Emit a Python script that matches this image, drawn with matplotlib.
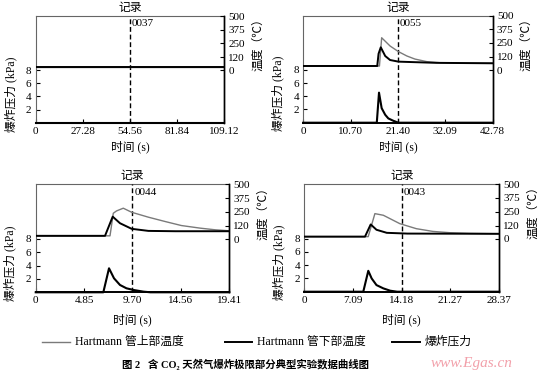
import matplotlib
matplotlib.use("Agg")
from matplotlib import pyplot as plt

plt.rcParams['font.family'] = ['Liberation Serif', 'Noto Sans CJK SC', 'DejaVu Sans']
plt.rcParams['axes.unicode_minus'] = False

# ---- data ----
# 0037
t_up1 = [0, 109.12]
up1 = [25, 25]
t_lo1 = [0, 109.12]
lo1 = [25, 25]
t_p1 = [0, 109.12]
p1 = [0, 0]

# 0055
t_up2 = [0, 17.2, 17.7, 19.6, 21.5, 23.4, 25.2, 27.9, 30.9, 35, 42.78]
up2 = [37, 37, 297, 221, 169, 129, 101, 77, 67, 63, 62]
t_lo2 = [0, 16.7, 17.0, 17.5, 18.5, 19.6, 21.5, 30, 42.78]
lo2 = [37, 37, 150, 209, 129, 92, 77, 66, 62]
t_p2 = [0, 16.6, 17.1, 17.7, 18.5, 19.2, 20.3, 21.5, 42.78]
p2 = [0, 0, 4.55, 2.2, 1.2, 0.65, 0.3, 0, 0]

# 0044
t_up3 = [0, 7.45, 7.78, 8.1, 8.78, 9.62, 11.3, 13.0, 14.6, 16.5, 18.0, 19.41]
up3 = [30, 30, 236, 257, 282, 245, 200, 160, 124, 100, 85, 76]
t_lo3 = [0, 6.95, 7.72, 8.45, 9.62, 11.3, 14, 19.41]
lo3 = [30, 30, 205, 145, 94, 75, 72, 72]
t_p3 = [0, 6.78, 7.35, 7.85, 8.45, 9.1, 9.8, 10.8, 11.5, 19.41]
p3 = [0, 0, 3.6, 2.1, 1.1, 0.6, 0.35, 0.1, 0, 0]

# 0043
t_up4 = [0, 9.3, 10.27, 11.5, 13.9, 16.3, 18.7, 21.2, 24, 28.37]
up4 = [20, 20, 231, 216, 139, 93, 68, 56, 50, 46]
t_lo4 = [0, 8.83, 9.66, 10.5, 12.0, 15, 28.37]
lo4 = [20, 20, 132, 83, 55, 48, 46]
t_p4 = [0, 8.58, 9.31, 9.8, 10.5, 11.5, 12.5, 13.5, 28.37]
p4 = [0, 0, 3.15, 2.0, 1.0, 0.5, 0.15, 0, 0]

xticks1 = ["0", "27.28", "54.56", "81.84", "109.12"]
xticks2 = ["0", "10.70", "21.40", "32.09", "42.78"]
xticks3 = ["0", "4.85", "9.70", "14.56", "19.41"]
xticks4 = ["0", "7.09", "14.18", "21.27", "28.37"]
records = ["0037", "0055", "0044", "0043"]

p_ticks = [2, 4, 6, 8]
temp_ticks = [0, 120, 250, 375, 500]

W, H = 540, 372
GRAY = '#7a7a7a'


def draw(box, tick_labels, rec, tu, up, tl, lo, tp, p, xlab_y):
    l, t, r, b = box
    ax = fig.add_axes([l / W, 1 - b / H, (r - l) / W, (b - t) / H])
    ticks = [float(s) for s in tick_labels]
    xmax = ticks[-1]
    ax.set_xlim(0, xmax)
    ax.set_ylim(0, 16.2)
    ax.plot(tp, p, color='k', lw=1.5, clip_on=False, zorder=3)
    ax.set_xticks(ticks, tick_labels)
    ax.set_yticks(p_ticks)
    ax.tick_params(direction='in', length=3, labelsize=8, pad=3)
    for s in ['top', 'left']:
        ax.spines[s].set_color('#666666')
        ax.spines[s].set_linewidth(0.8)
    ax.spines['bottom'].set_linewidth(1.4)
    ax.spines['right'].set_linewidth(1.0)
    ax.set_ylabel("爆炸压力 (kPa)", fontsize=8.5, labelpad=4)
    ax.yaxis.set_label_coords(-0.1, 0.27)

    ax2 = ax.twinx()
    ax2.set_ylim(-485, 500)
    ax2.plot(tu, up, color=GRAY, lw=1.0, zorder=2)
    ax2.plot(tl, lo, color='k', lw=1.4, zorder=3)
    ax2.set_yticks(temp_ticks)
    ax2.tick_params(direction='in', length=3, labelsize=8, pad=3)
    for s in ['top', 'left', 'bottom']:
        ax2.spines[s].set_visible(False)
    ax2.spines['right'].set_linewidth(1.0)
    ax2.set_ylabel("温度（℃）", fontsize=8.5, rotation=90, labelpad=4)
    ax2.yaxis.set_label_coords(1 + 28 / (r - l), 0.76)

    # record marker
    xr = ticks[2]
    ax.axvline(xr, color='k', lw=1.0, ls=(0, (3.5, 2)), zorder=4)
    xr_px = l + (r - l) * xr / xmax
    fig.text(xr_px / W, 1 - (t - 8) / H, "记录", ha='center', va='center', fontsize=8.5)
    ax.text(xr + xmax * 0.01, 15.7, rec, ha='left', va='top', fontsize=8)
    fig.text((l + r) / 2 / W, 1 - xlab_y / H, "时间 (s)", ha='center', va='center', fontsize=8.5)
    return ax


fig = plt.figure(figsize=(5.4, 3.72), dpi=100)

draw((35.7, 16, 224, 122.7), xticks1, records[0], t_up1, up1, t_lo1, lo1, t_p1, p1, 147)
draw((303.3, 15.7, 492.7, 122.7), xticks2, records[1], t_up2, up2, t_lo2, lo2, t_p2, p2, 147)
draw((35.7, 184.3, 229.3, 292.3), xticks3, records[2], t_up3, up3, t_lo3, lo3, t_p3, p3, 320)
draw((304.3, 184.3, 499.3, 291.7), xticks4, records[3], t_up4, up4, t_lo4, lo4, t_p4, p4, 320)

# legend row
legend_items = [("Hartmann 管上部温度", GRAY, 1.0, 42, 70),
                ("Hartmann 管下部温度", 'k', 1.4, 225, 252),
                ("爆炸压力", 'k', 1.4, 392, 420)]
yl = 1 - 342 / H
for label, c, lw, x0, x1 in legend_items:
    fig.add_artist(plt.Line2D([x0 / W, x1 / W], [yl, yl], color=c, lw=lw))
    fig.text((x1 + 5) / W, yl, label, ha='left', va='center', fontsize=8.5)

fig.text(245 / W, 1 - 364 / H, "图 2   含 CO₂ 天然气爆炸极限部分典型实验数据曲线图",
         ha='center', va='center', fontsize=7.5, fontweight='bold')
fig.text(472 / W, 1 - 363 / H, "www.Egas.cn", ha='center', va='center', fontsize=11,
         style='italic', color='#f2a0aa', family='Liberation Serif')

fig.savefig("out.png", dpi=100)
